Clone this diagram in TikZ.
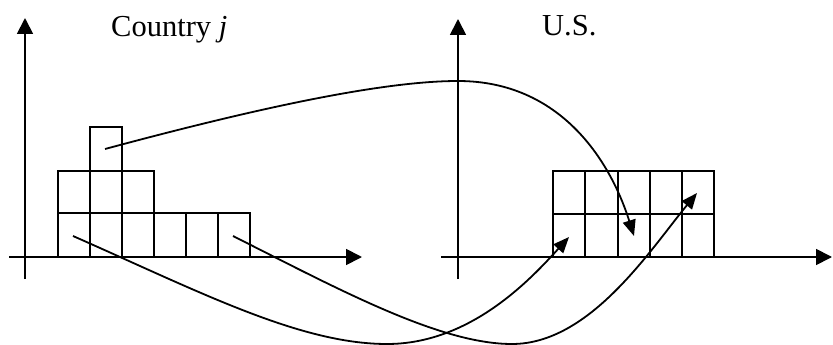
\documentclass[tikz,border=0pt]{standalone}
\usepackage{fontspec}
\setmainfont{Liberation Serif}
\usetikzlibrary{arrows.meta}
\begin{document}
\begin{tikzpicture}[x=1pt,y=-1pt,
  axis/.style={line width=1.8pt,-{Triangle[length=16pt,width=16pt]}},
  cell/.style={line width=1.8pt},
  flow/.style={line width=1.8pt,-{Triangle[length=16pt,width=13pt]}},
  lbl/.style={anchor=base west,inner sep=0pt,font=\fontsize{30.5}{36}\selectfont}]
\useasboundingbox (0,0) rectangle (833,345);
% labels
\node[lbl] (lc) at (111,37) {Country \textit{j}};
\node[lbl] (lu) at (542,36) {U.S.};
% left grid
\foreach \i in {0,...,5} {\draw[cell] (58+\i*32,213) rectangle (90+\i*32,257);}
\foreach \i in {0,...,2} {\draw[cell] (58+\i*32,171) rectangle (90+\i*32,213);}
\draw[cell] (90,127) rectangle (122,171);
% right grid
\foreach \xa/\xb in {553/585,585/618,618/650,650/682,682/714} {
  \draw[cell] (\xa,214) rectangle (\xb,257);
  \draw[cell] (\xa,171) rectangle (\xb,214);}
% axes
\coordinate (ly0) at (25,279); \coordinate (ly1) at (25,18);
\coordinate (lx0) at (9,257);  \coordinate (lx1) at (362,257);
\coordinate (ry0) at (458,279); \coordinate (ry1) at (458,19);
\coordinate (rx0) at (441,257); \coordinate (rx1) at (832,257);
\draw[axis] (ly0) -- (ly1);
\draw[axis] (lx0) -- (lx1);
\draw[axis] (ry0) -- (ry1);
\draw[axis] (rx0) -- (rx1);
% flows
\coordinate (a0) at (105,149); \coordinate (a1) at (458,81); \coordinate (a2) at (634,236);
\coordinate (b0) at (73,236);  \coordinate (b1) at (387,344); \coordinate (b2) at (569,237);
\coordinate (c0) at (233,236); \coordinate (c1) at (512,344); \coordinate (c2) at (697,193);
\draw[flow] (a0) .. controls (250,110) and (380,81) .. (a1)
            .. controls (560,81) and (610,160) .. (a2);
\draw[flow] (b0) .. controls (200,292) and (300,344) .. (b1)
            .. controls (470,344) and (530,280) .. (b2);
\draw[flow] (c0) .. controls (340,290) and (440,344) .. (c1)
            .. controls (590,344) and (650,250) .. (c2);
\end{tikzpicture}
\end{document}
